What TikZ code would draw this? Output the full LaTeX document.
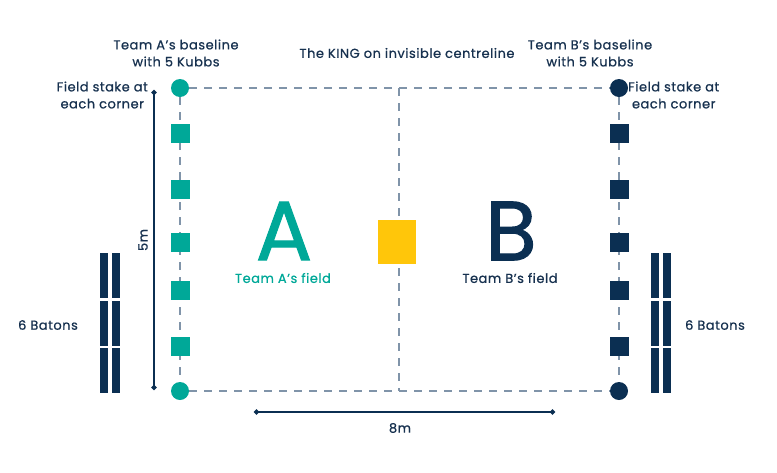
\documentclass[tikz,border=0pt]{standalone}
\usepackage{fontspec}
\setmainfont{Poppins}[FakeBold=0.7, LetterSpace=4]
\newfontfamily\bigletter{Poppins}[FakeBold=1.2]
\usetikzlibrary{arrows.meta,backgrounds}
\definecolor{teamA}{HTML}{00A898}
\definecolor{teamB}{HTML}{0B2F52}
\definecolor{king}{HTML}{FFC60A}
\definecolor{fieldline}{HTML}{8094A9}
\definecolor{ink}{HTML}{17314F}
\begin{document}
\begin{tikzpicture}[x=1pt, y=-1pt,
  lbl/.style={text=ink, font=\fontsize{13}{17}\selectfont, align=center, inner sep=0pt},
  stake/.style={circle, minimum size=18pt, inner sep=0pt},
  kubb/.style={minimum size=19pt, inner sep=0pt},
  baton/.style={fill=teamB, minimum width=8pt, minimum height=45pt, inner sep=0pt},
  fieldln/.style={draw=fieldline, line width=1.2pt, dash pattern=on 8pt off 7pt},
  dim/.style={draw=teamB, line width=1.4pt, {Circle[length=5pt]}-{Circle[length=5pt]}},
  letter/.style={font=\bigletter\fontsize{84}{84}\selectfont, inner sep=0pt}]
\useasboundingbox (0,0) rectangle (777,472);
% corner stakes
\node[stake, fill=teamA] (sA1) at (180,88)  {};
\node[stake, fill=teamA] (sA2) at (180,391) {};
\node[stake, fill=teamB] (sB1) at (619,88)  {};
\node[stake, fill=teamB] (sB2) at (619,391) {};
\coordinate (cT) at (399,88);
\coordinate (cB) at (399,391);
% kubbs on the baselines
\foreach \y [count=\i] in {133,189,242,290,346} {
  \node[kubb, fill=teamA] (kA\i) at (180,\y) {};
  \node[kubb, fill=teamB] (kB\i) at (619,\y) {};
}
% the king
\node[fill=king, minimum width=38pt, minimum height=44pt, inner sep=0pt] (king) at (397,242) {};
\begin{scope}[on background layer]
  \draw[fieldln] (sA1) -- (sB1);
  \draw[fieldln] (sA2) -- (sB2);
  \draw[fieldln] (sA1) -- (sA2);
  \draw[fieldln] (sB1) -- (sB2);
  \draw[fieldln] (cT) -- (cB);
\end{scope}
% batons
\foreach \y [count=\i] in {275.5,323.5,370.5} {
  \node[baton] (bL\i) at (104,\y) {};
  \node[baton] (bl\i) at (116,\y) {};
  \node[baton] (bR\i) at (654.5,\y) {};
  \node[baton] (br\i) at (666.5,\y) {};
}
% dimensions
\coordinate (d5a) at (154,90);
\coordinate (d5b) at (154,390);
\coordinate (d8a) at (254,412);
\coordinate (d8b) at (555,412);
\draw[dim] (d5a) -- (d5b);
\draw[dim] (d8a) -- (d8b);
\node[lbl, rotate=90] (l5) at (143,240) {5m};
\node[lbl] (l8) at (400,428) {8m};
% field letters
\node[letter, text=teamA] (bigA) at (284,231) {A};
\node[lbl, text=teamA] (fA) at (283,278) {Team A’s field};
\node[letter, text=teamB] (bigB) at (511,231) {B};
\node[lbl] (fB) at (510,278) {Team B’s field};
% labels
\node[lbl] (tA) at (176,53) {Team A’s baseline\\with 5 Kubbs};
\node[lbl] (tK) at (407,53) {The KING on invisible centreline};
\node[lbl] (tB) at (590,53) {Team B’s baseline\\with 5 Kubbs};
\node[lbl, anchor=east] (fsA) at (148,95) {Field stake at\\each corner};
\node[lbl, anchor=west] (fsB) at (628,95) {Field stake at\\each corner};
\node[lbl] (nL) at (48,325) {6 Batons};
\node[lbl] (nR) at (715,325) {6 Batons};
\end{tikzpicture}
\end{document}
